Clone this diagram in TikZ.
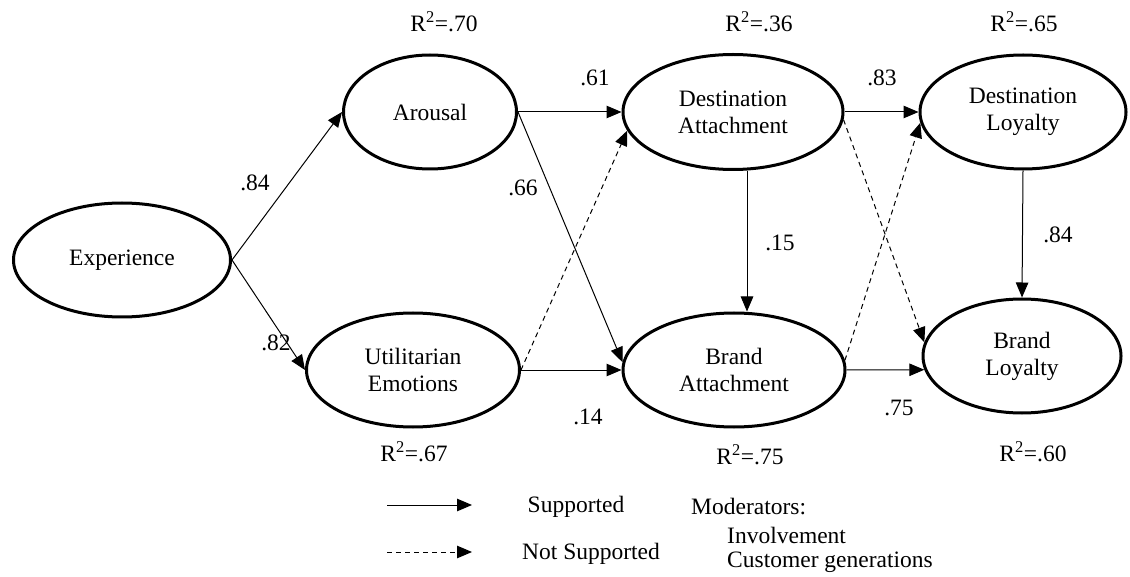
\documentclass[tikz,border=0pt]{standalone}
\usepackage{fontspec}
\setmainfont{Liberation Serif}
\usetikzlibrary{shapes.geometric,arrows.meta,calc}
\newcommand\dgfs{\fontsize{23.5}{27}\selectfont}
\newcommand\rsq[1]{R\textsuperscript{2}=.#1}
\begin{document}
\begin{tikzpicture}[x=1pt,y=-1pt,
  lat/.style={ellipse,draw,line width=3pt,inner sep=0pt,align=center,font=\dgfs},
  arr/.style={-{Triangle[length=15pt,width=12.5pt]},line width=1pt},
  ns/.style={arr,dash pattern=on 5pt off 4pt},
  lbl/.style={font=\dgfs,inner sep=0pt}]
\useasboundingbox[fill=white] (0,0) rectangle (1130,577);
% latent variables
\node[lat,minimum width=217pt,minimum height=114pt] (ex) at (122,260) {Experience};
\node[lat,minimum width=173pt,minimum height=114pt] (ar) at (430,112) {Arousal};
\node[lat,minimum width=213pt,minimum height=114pt] (ue) at (413,370) {Utilitarian\\Emotions};
\node[lat,minimum width=220pt,minimum height=115pt] (da) at (733,112) {Destination\\Attachment};
\node[lat,minimum width=222pt,minimum height=114pt] (ba) at (734,370) {Brand\\Attachment};
\node[lat,minimum width=206pt,minimum height=114pt] (dl) at (1023,112) {Destination\\Loyalty};
\node[lat,minimum width=198pt,minimum height=114pt] (bl) at (1022,356) {Brand\\Loyalty};
% paths
\draw[arr] (ex.east) -- (ar.west);
\draw[arr] (ex.east) -- (ue.west);
\draw[arr] (ar.east) -- (da.west);
\draw[arr] (ar.east) -- (ba.176);
\draw[ns] (ue.east) -- (da.190);
\draw[arr] (ue.east) -- (ba.west);
\draw[arr] (da.east) -- (dl.west);
\draw[ns] (da.-4) -- (bl.172);
\draw[ns] (ba.5) -- (dl.186);
\draw[arr] (ba.east) -- (bl.188);
\draw[arr] ([xshift=14pt]da.south) -- ([xshift=13pt]ba.north);
\draw[arr] (dl.south) -- (bl.north);
% coefficients
\node[lbl] (c1) at (255,183) {.84};
\node[lbl] (c2) at (276,343) {.82};
\node[lbl] (c3) at (595,78) {.61};
\node[lbl] (c4) at (523,188) {.66};
\node[lbl] (c5) at (780,243) {.15};
\node[lbl] (c6) at (588,417) {.14};
\node[lbl] (c7) at (882,78) {.83};
\node[lbl] (c8) at (1058,235) {.84};
\node[lbl] (c9) at (899,408) {.75};
% R squared
\node[lbl] (r1) at (444,22) {\rsq{70}};
\node[lbl] (r2) at (759,22) {\rsq{36}};
\node[lbl] (r3) at (1024,22) {\rsq{65}};
\node[lbl] (r4) at (414,452) {\rsq{67}};
\node[lbl] (r5) at (750,455) {\rsq{75}};
\node[lbl] (r6) at (1033,452) {\rsq{60}};
% legend
\coordinate (s1) at (387,505); \coordinate (s2) at (472,505);
\coordinate (n1) at (387,552); \coordinate (n2) at (472,552);
\draw[arr] (s1) -- (s2);
\draw[ns] (n1) -- (n2);
\node[lbl] (sup) at (576,507) {Supported};
\node[lbl] (nsup) at (591,554) {Not Supported};
\node[lbl,anchor=west] (mod) at (691,507) {Moderators:};
\node[lbl,anchor=west] (inv) at (727,535) {Involvement};
\node[lbl,anchor=west] (cg) at (727,562) {Customer generations};
\end{tikzpicture}
\end{document}
